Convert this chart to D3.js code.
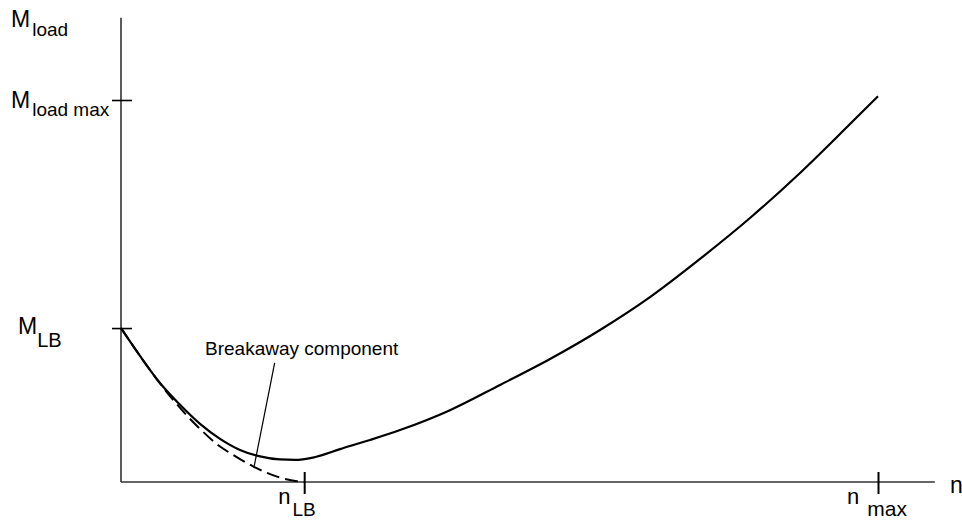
<!DOCTYPE html>
<html>
<head>
<meta charset="utf-8">
<script src="https://cdn.jsdelivr.net/npm/d3@7/dist/d3.min.js"></script>
<style>
  html, body { margin: 0; padding: 0; background: #fff; overflow: hidden; }
  svg { display: block; font-family: "Liberation Sans", Arial, Helvetica, sans-serif; }
</style>
</head>
<body>
<svg id="chart" width="962" height="521"></svg>
<script>
// ---- data (arbitrary units: n_max = 100, M_load max = 100) ----
const solidN = [0, 2.51, 5.15, 7.80, 10.44, 13.08, 15.72, 18.36, 21.0, 22.99, 25.36, 28.93, 32.89, 36.86, 43.46, 50.07, 56.67, 63.28, 69.88, 76.49, 83.09, 89.70, 96.30, 100];
const solidM = [40.3, 33.0, 25.9, 20.2, 15.2, 11.3, 8.4, 6.7, 5.9, 5.8, 6.4, 8.6, 11.0, 13.6, 18.8, 25.4, 32.2, 39.8, 48.4, 58.4, 69.1, 80.9, 93.7, 101.0];
const dashedN = [0, 2.51, 5.15, 7.80, 10.44, 12.68, 14.80, 17.44, 20.61, 23.25, 24.2];
const dashedM = [40.3, 33.0, 25.8, 19.4, 13.9, 9.9, 7.1, 4.1, 1.4, 0.2, 0];
const leaderN = [20.3, 17.57];
const leaderM = [31.2, 3.9];
const xTickValues = [24.2, 100];
const xTickMain = ["n", "n"];
const xTickSub = ["LB", "max"];
const yTickValues = [40.3, 100];
const yTickMain = ["M", "M"];
const yTickSub = ["LB", "load max"];
const yTitleMain = "M", yTitleSub = "load";
const xTitle = "n";
const annotation = "Breakaway component";

// ---- layout ----
const svg = d3.select("#chart");
const x = d3.scaleLinear().domain([0, 100]).range([121, 878]);
const y = d3.scaleLinear().domain([0, 100]).range([482, 100]);
const xMax = 107.5, yMax = 121.5;

const axisColor = "#333";

// x axis
const gx = svg.append("g").attr("transform", `translate(0,${y(0)})`)
  .call(d3.axisBottom(x).tickValues(xTickValues).tickFormat("").tickSizeOuter(0).tickSize(12));
gx.select(".domain").attr("d", `M${x(0)},0H${x(xMax)}`).attr("stroke", axisColor).attr("stroke-width", 1.6);
gx.selectAll(".tick line").attr("y1", -10).attr("y2", 12).attr("stroke", "#000").attr("stroke-width", 2);

// y axis
const gy = svg.append("g").attr("transform", `translate(${x(0)},0)`)
  .call(d3.axisLeft(y).tickValues(yTickValues).tickFormat("").tickSizeOuter(0).tickSize(9));
gy.select(".domain").attr("d", `M0,${y(yMax)}V${y(0)}`).attr("stroke", axisColor).attr("stroke-width", 1.6);
gy.selectAll(".tick line").attr("x1", -9).attr("x2", 11).attr("stroke", "#000").attr("stroke-width", 1.6);

// curves
const line = d3.line().x(d => x(d[0])).y(d => y(d[1])).curve(d3.curveMonotoneX);
svg.append("path").datum(dashedN.map((n, i) => [n, dashedM[i]]))
  .attr("d", line).attr("fill", "none").attr("stroke", "#000")
  .attr("stroke-width", 2).attr("stroke-dasharray", "13,6");
svg.append("path").datum(solidN.map((n, i) => [n, solidM[i]]))
  .attr("d", line).attr("fill", "none").attr("stroke", "#000").attr("stroke-width", 2.2);

// leader line
svg.append("path").datum(leaderN.map((n, i) => [n, leaderM[i]]))
  .attr("d", d3.line().x(d => x(d[0])).y(d => y(d[1])))
  .attr("fill", "none").attr("stroke", "#000").attr("stroke-width", 1.2);

// annotation
svg.append("text").attr("x", 205).attr("y", 355).attr("font-size", 19).attr("fill", "#000").text(annotation);

// y title
const yt = svg.append("text").attr("x", 11).attr("y", 27).attr("font-size", 23).attr("fill", "#000");
yt.append("tspan").text(yTitleMain);
yt.append("tspan").attr("font-size", 19).attr("dx", 2).attr("dy", 9).text(yTitleSub);

// y tick labels
const yLabelX = [18, 11], yLabelDy = [6, 8], ySubDy = [13, 8], ySubDx = [0, 2], ySubSize = [20, 19];
yTickValues.forEach((v, i) => {
  const t = svg.append("text").attr("x", yLabelX[i]).attr("y", y(v) + yLabelDy[i]).attr("font-size", 23).attr("fill", "#000");
  t.append("tspan").text(yTickMain[i]);
  t.append("tspan").attr("font-size", ySubSize[i]).attr("dx", ySubDx[i]).attr("dy", ySubDy[i]).text(yTickSub[i]);
});

// x tick labels
const xLabelOff = [-26, -31], xSubDx = [2, 8], xSubSize = [19, 21];
xTickValues.forEach((v, i) => {
  const t = svg.append("text").attr("x", x(v) + xLabelOff[i]).attr("y", 504).attr("font-size", 22).attr("fill", "#000");
  t.append("tspan").text(xTickMain[i]);
  t.append("tspan").attr("font-size", xSubSize[i]).attr("dx", xSubDx[i]).attr("dy", 12).text(xTickSub[i]);
});

// x title (partly cut off by the right edge, as in the reference)
svg.append("text").attr("x", 950).attr("y", 493).attr("font-size", 23).attr("fill", "#000").text(xTitle);
</script>
</body>
</html>
